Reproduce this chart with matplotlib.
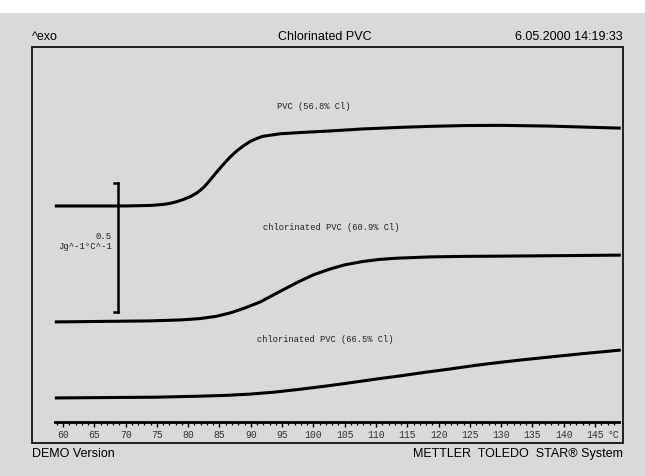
import matplotlib
matplotlib.use("Agg")
import numpy as np
import matplotlib.pyplot as plt
from matplotlib.patches import Rectangle

# temperatures (°C) and heat flow (J g^-1 °C^-1, arbitrary offset)
t_pvc = [58.7, 70.0, 73.9, 76.0, 77.1, 78.2, 79.2, 80.3, 81.4, 82.5, 83.5, 84.5, 85.6, 86.7,
         87.8, 88.9, 89.9, 91.0, 91.9, 94.7, 98.0, 102.7, 108.0, 113.8, 118.6, 124.0, 129.8, 137.8, 149.1]
hf_pvc = [0.926, 0.926, 0.928, 0.932, 0.936, 0.943, 0.951, 0.962, 0.977, 0.999, 1.027, 1.057, 1.088, 1.117,
          1.142, 1.162, 1.178, 1.190, 1.198, 1.208, 1.213, 1.219, 1.227, 1.233, 1.237, 1.240, 1.241, 1.238, 1.230]

t_c609 = [58.7, 73.9, 79.0, 81.9, 84.5, 86.7, 89.0, 91.5, 94.5, 97.4, 100.0, 102.7, 105.0, 107.9,
          110.5, 113.4, 118.6, 124.0, 129.8, 140.0, 149.1]
hf_c609 = [0.473, 0.477, 0.481, 0.486, 0.495, 0.508, 0.527, 0.551, 0.590, 0.627, 0.657, 0.680, 0.696, 0.709,
           0.717, 0.722, 0.727, 0.729, 0.730, 0.732, 0.734]

t_c665 = [58.7, 75.0, 81.9, 86.0, 89.9, 93.9, 97.9, 101.9, 105.8, 109.8, 113.8, 117.8, 121.8, 125.8,
          129.8, 133.8, 137.8, 143.0, 149.1]
hf_c665 = [0.176, 0.179, 0.183, 0.186, 0.191, 0.199, 0.210, 0.222, 0.235, 0.249, 0.262, 0.276, 0.289, 0.303,
           0.315, 0.326, 0.336, 0.349, 0.363]

curve_labels = ["PVC (56.8% Cl)", "chlorinated PVC (60.9% Cl)", "chlorinated PVC (66.5% Cl)"]
major_ticks = list(range(60, 150, 5))
minor_ticks = list(range(59, 149))

W, H = 645, 476
bg = "#d9d9d9"
fig = plt.figure(figsize=(W / 100, H / 100), dpi=100, facecolor=bg)

# white strip at the very top
fig.add_artist(Rectangle((0, 1 - 13 / H), 1, 13 / H, transform=fig.transFigure,
                         facecolor="white", edgecolor="none"))

l, r, b, t = 32 / W, 623 / W, (H - 443) / H, (H - 47) / H
ax = fig.add_axes([l, b, r - l, t - b])
ax.set_facecolor(bg)
fig.add_artist(Rectangle((l, b), r - l, t - b, transform=fig.transFigure,
                         fill=False, edgecolor="#111111", lw=1.3))

ax.set_xlim(55.05, 149.46)
ax.set_ylim(0, 1.547)

for tt, hf in [(t_pvc, hf_pvc), (t_c609, hf_c609), (t_c665, hf_c665)]:
    ax.plot(tt, hf, color="black", lw=2.2, solid_capstyle="butt", solid_joinstyle="round")

mono = "Liberation Mono"
ax.text(100.1, 1.316, curve_labels[0], fontsize=6.3, family=mono, ha="center", va="center", color="#222222")
ax.text(102.8, 0.840, curve_labels[1], fontsize=6.3, family=mono, ha="center", va="center", color="#222222")
ax.text(101.9, 0.406, curve_labels[2], fontsize=6.3, family=mono, ha="center", va="center", color="#222222")

# 0.5 J/g/°C scale bar
bar_x, bar_lo, bar_hi = 68.8, 0.512, 1.016
ax.plot([bar_x, bar_x], [bar_lo, bar_hi], color="black", lw=1.8)
ax.plot([68.15, bar_x], [bar_hi, bar_hi], color="black", lw=1.8)
ax.plot([68.15, bar_x], [bar_lo, bar_lo], color="black", lw=1.8)
ax.text(67.8, 0.805, "0.5", fontsize=6.5, family=mono, ha="right", va="center", color="#222222")
ax.text(67.8, 0.768, "Jg^-1°C^-1", fontsize=6.5, family=mono, ha="right", va="center", color="#222222")

# temperature ruler
for s in ["top", "left", "right"]:
    ax.spines[s].set_visible(False)
ax.spines["bottom"].set_position(("data", 0.082))
ax.spines["bottom"].set_bounds(58.7, 148.8)
ax.spines["bottom"].set_linewidth(2)
ax.set_yticks([])
ax.set_xticks(major_ticks)
ax.set_xticks(minor_ticks, minor=True)
ax.tick_params(axis="x", which="major", direction="out", length=3.5, width=1, pad=2.5,
               labelsize=7, labelcolor="#333333")
ax.tick_params(axis="x", which="minor", direction="out", length=2.4, width=0.9)
for lab in ax.get_xticklabels():
    lab.set_family(mono)
ax.text(147.9, 0.082, "°C", fontsize=7, family=mono, ha="center", va="top", color="#333333",
        transform=ax.transData + matplotlib.transforms.ScaledTranslation(0, -6 / 72, fig.dpi_scale_trans))

# header and footer
sans = "Liberation Sans"
fig.text(l, 1 - 37 / H, "^exo", fontsize=9, family=sans, ha="left", va="center")
fig.text(325 / W, 1 - 37 / H, "Chlorinated PVC", fontsize=9, family=sans, ha="center", va="center")
fig.text(r, 1 - 37 / H, "6.05.2000 14:19:33", fontsize=9, family=sans, ha="right", va="center")
fig.text(l, 1 - 454 / H, "DEMO Version", fontsize=9, family=sans, ha="left", va="center")
fig.text(r, 1 - 454 / H, "METTLER  TOLEDO  STAR\u00ae System", fontsize=9, family=sans, ha="right", va="center")

fig.savefig("out.png", dpi=100, facecolor=bg)
